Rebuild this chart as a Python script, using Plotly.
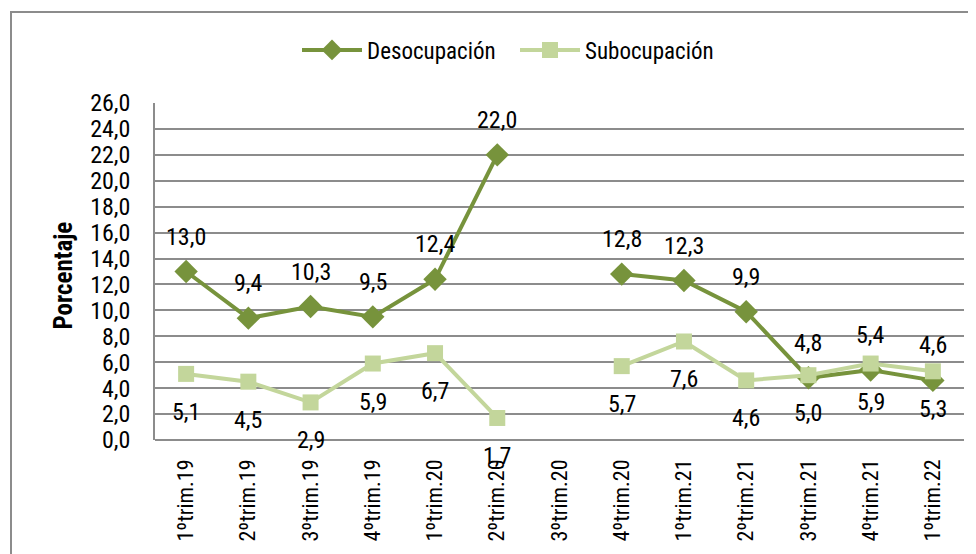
import plotly.graph_objects as go

categories = ["1ºtrim.19", "2ºtrim.19", "3ºtrim.19", "4ºtrim.19", "1ºtrim.20", "2ºtrim.20",
              "3ºtrim.20", "4ºtrim.20", "1ºtrim.21", "2ºtrim.21", "3ºtrim.21", "4ºtrim.21", "1ºtrim.22"]
desocupacion = [13.0, 9.4, 10.3, 9.5, 12.4, 22.0, None, 12.8, 12.3, 9.9, 4.8, 5.4, 4.6]
subocupacion = [5.1, 4.5, 2.9, 5.9, 6.7, 1.7, None, 5.7, 7.6, 4.6, 5.0, 5.9, 5.3]
yticks = [0, 2, 4, 6, 8, 10, 12, 14, 16, 18, 20, 22, 24, 26]

FONT = "Roboto Condensed, Liberation Sans Narrow, sans-serif"
C_DES = "#77933C"
C_SUB = "#C3D69B"

fig = go.Figure()
fig.add_trace(go.Scatter(x=categories, y=desocupacion, name="Desocupación", mode="lines+markers",
                         line=dict(color=C_DES, width=4),
                         marker=dict(symbol="diamond", size=18, color=C_DES),
                         connectgaps=False, legend="legend"))
fig.add_trace(go.Scatter(x=categories, y=subocupacion, name="Subocupación", mode="lines+markers",
                         line=dict(color=C_SUB, width=4),
                         marker=dict(symbol="square", size=16, color=C_SUB),
                         connectgaps=False, legend="legend2"))

def fmt(v):
    return f"{v:.1f}".replace(".", ",")

annotations = []
for c, v in zip(categories, desocupacion):
    if v is not None:
        annotations.append(dict(x=c, y=v, text=fmt(v), showarrow=False, yshift=35,
                                font=dict(family=FONT, size=24, color="#000")))
for c, v in zip(categories, subocupacion):
    if v is not None:
        annotations.append(dict(x=c, y=v, text=fmt(v), showarrow=False, yshift=-38,
                                font=dict(family=FONT, size=24, color="#000")))

# page body has an 8px margin: work in screen pixels, convert to figure pixels
OFF = 8
W, H = 976 - OFF, 554 - OFF
L = 155 - OFF
R = W - (964 - OFF)
T = 103 - OFF
B = H - (440 - OFF)
pw, ph = W - L - R, H - T - B
def px2x(px): return (px - OFF - L) / pw
def py2y(py): return (H - B - (py - OFF)) / ph

annotations.append(dict(x=px2x(46), y=py2y(276), xref="paper", yref="paper", text="<b>Porcentaje</b>",
                        textangle=-90, showarrow=False, font=dict(family=FONT, size=25, color="#000")))

leg_common = dict(orientation="h", xanchor="center", y=py2y(50), yanchor="middle",
                  font=dict(family=FONT, size=23), itemwidth=60, bgcolor="rgba(0,0,0,0)")

fig.update_layout(
    width=W, height=H,
    margin=dict(l=L, r=R, t=T, b=B),
    paper_bgcolor="white", plot_bgcolor="white",
    font=dict(family=FONT, size=24, color="#000"),
    showlegend=True,
    legend=dict(x=px2x(399), **leg_common),
    legend2=dict(x=px2x(617), **leg_common),
    xaxis=dict(type="category", range=[-0.5, len(categories) - 0.5], tickangle=-90,
               tickfont=dict(family=FONT, size=22),
               showgrid=False, showline=False, ticks="", ticklabelstandoff=14, automargin=False),
    yaxis=dict(range=[0, 26], tickvals=yticks, ticktext=[fmt(t) for t in yticks],
               tickfont=dict(family=FONT, size=24), showgrid=True, gridcolor="#8c8c8c",
               gridwidth=1.5, showline=True, linecolor="#8c8c8c", linewidth=1.5,
               zeroline=True, zerolinecolor="#8c8c8c", zerolinewidth=1.5,
               ticklabelstandoff=18, automargin=False),
    annotations=annotations,
    shapes=[dict(type="rect", xref="paper", yref="paper", x0=px2x(11), x1=px2x(973),
                 y0=py2y(560), y1=py2y(12), line=dict(color="#8c8c8c", width=2), layer="below")],
)

fig.write_html("out.html")
